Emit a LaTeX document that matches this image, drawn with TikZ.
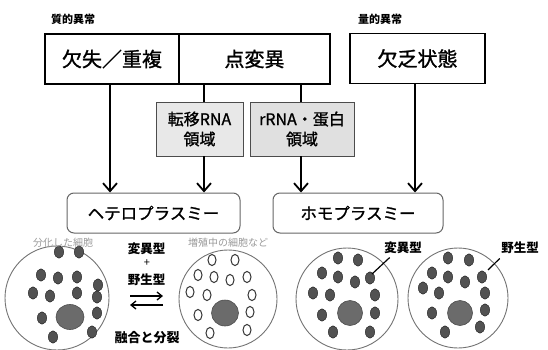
\documentclass[tikz,border=0pt]{standalone}
\usepackage{fontspec}
\setmainfont{Noto Sans CJK JP}
\newfontfamily\boxfont[FakeBold=1.2]{Noto Sans CJK JP}
\usetikzlibrary{arrows.meta,calc}
\begin{document}
\begin{tikzpicture}[x=1pt,y=-1pt,
  topbox/.style={draw=black,line width=1.2pt,minimum height=50pt,inner sep=0pt,
    font=\boxfont\fontsize{20}{22}\selectfont},
  regionbox/.style={draw=black!70,line width=0.8pt,fill=black!9,minimum height=54pt,
    inner sep=0pt,align=center,font=\boxfont\fontsize{16}{20}\selectfont},
  plasmybox/.style={draw=black!60,line width=1pt,rounded corners=7pt,minimum height=40pt,
    inner sep=0pt,font=\boxfont\fontsize{16.5}{20}\selectfont},
  grouplabel/.style={font=\fontsize{11}{12}\selectfont\bfseries},
  flow/.style={line width=1.8pt,-{Straight Barb[length=8pt,width=14pt,line width=1.8pt]}},
  exchange/.style={line width=1.3pt,-{Straight Barb[length=5pt,width=8pt,line width=1.3pt]}},
  cellwall/.style={draw=black!55,line width=0.9pt},
  mito/.style={draw=black!85,fill=black!68,line width=0.5pt},
  wildmito/.style={draw=black!80,fill=white,line width=1pt},
  nucleus/.style={draw=black!70,fill=black!58,line width=0.6pt},
  celltag/.style={text=black!40,font=\fontsize{10}{12}\selectfont},
  typetag/.style={font=\fontsize{12.5}{14}\selectfont\bfseries},
  leader/.style={line width=1.2pt}]
\useasboundingbox (0,0) rectangle (548,350);
\clip (0,0) rectangle (548,350);

% group headings
\node[grouplabel] (qual) at (73,19) {質的異常};
\node[grouplabel] (quant) at (380,19) {量的異常};

% kinds of abnormality
\node[topbox,minimum width=134pt] (deldup) at (112,59) {欠失／重複};
\node[topbox,minimum width=151pt] (point) at (254.5,59) {点変異};
\node[topbox,minimum width=135pt] (deficit) at (417.5,58.5) {欠乏状態};

% mutated regions
\node[regionbox,minimum width=87pt] (trna) at (199.5,129) {転移RNA\\領域};
\node[regionbox,minimum width=104pt,fill=black!12] (rrna) at (302,129) {rRNA・蛋白\\領域};

% resulting states
\node[plasmybox,minimum width=173pt] (hetero) at (153.5,213) {ヘテロプラスミー};
\node[plasmybox,minimum width=170pt] (homo) at (358,213) {ホモプラスミー};

% connectors
\draw[flow] ([xshift=-2pt]deldup.south) -- ([xshift=-2pt]deldup.south |- hetero.north);
\draw[line width=1.8pt] ([xshift=4.5pt]trna.north |- point.south) -- ([xshift=4.5pt]trna.north);
\draw[flow] ([xshift=4.5pt]trna.south) -- ([xshift=4.5pt]trna.south |- hetero.north);
\draw[line width=1.8pt] ([xshift=-1pt]rrna.north |- point.south) -- ([xshift=-1pt]rrna.north);
\draw[flow] ([xshift=-1pt]rrna.south) -- ([xshift=-1pt]rrna.south |- homo.north);
\draw[flow] ([xshift=-2.5pt]deficit.south) -- ([xshift=-2.5pt]deficit.south |- homo.north);

% cells
\draw[cellwall] (57,298) circle[radius=52];
\draw[cellwall] (228,299) circle[radius=49];
\draw[cellwall] (347,299) circle[radius=51];
\draw[cellwall] (458,298) circle[radius=50];

% differentiated cell: mixed mitochondria
\foreach \x/\y in {59/252,79/252,41/275,58/278,77/277,98/285,33/293,50/296,77/293,97/297,
                   42/318,97/313,53/337,92/332}
  \draw[mito] (\x,\y) ellipse[x radius=4.6,y radius=6.2];
\draw[nucleus] (70,317) ellipse[x radius=14,y radius=12.5];

% proliferating cell
\foreach \x/\y in {212/260,235/260,198/275,214/277,230/280,247/277,190/292,207/295,252/295,
                   198/315,250/312,210/333,247/330}
  \draw[wildmito] (\x,\y) ellipse[x radius=4,y radius=5.6];
\draw[nucleus] (225,313) ellipse[x radius=13.5,y radius=13];

% homoplasmic cells
\foreach \x/\y in {338/258,358/260,322/273,338/277,355/282,370/278,313/293,330/295,375/295,
                   322/315,375/313,333/332,370/332}
  \draw[mito] (\x,\y) ellipse[x radius=4.6,y radius=6.2];
\draw[nucleus] (350,313) circle[radius=12.5];
\foreach \x/\y in {448/258,469/260,432/273,448/277,465/282,482/277,423/288,439/293,485/293,
                   432/313,485/310,445/332,480/327}
  \draw[mito] (\x,\y) ellipse[x radius=4.6,y radius=6.2];
\draw[nucleus] (460,313) circle[radius=12.5];

% cell captions
\node[celltag] (difftag) at (63,243) {分化した細胞};
\node[celltag] (prolifftag) at (228,243) {増殖中の細胞など};

% mixed population and exchange
\node[typetag] (mix1) at (146.5,249) {変異型};
\node[typetag,font=\fontsize{11}{12}\selectfont] (plus) at (147,263) {+};
\node[typetag] (mix2) at (146.5,280) {野生型};
\coordinate (exA) at (130,296);
\coordinate (exB) at (163,296);
\coordinate (exC) at (163,305);
\coordinate (exD) at (130,305);
\draw[exchange] (exA) -- (exB);
\draw[exchange] (exC) -- (exD);
\node[typetag,font=\fontsize{13}{14}\selectfont\bfseries] (fusion) at (147,338) {融合と分裂};

% labels on homoplasmic cells
\node[typetag] (mutlabel) at (403,248) {変異型};
\node[typetag] (wildlabel) at (520,248) {野生型};
\coordinate (mutdot) at (372,274);
\coordinate (wilddot) at (488,270);
\draw[leader] (mutlabel.south west) ++(9,0) -- (mutdot);
\draw[leader] (wildlabel.south west) ++(2,1) -- (wilddot);
\end{tikzpicture}
\end{document}
